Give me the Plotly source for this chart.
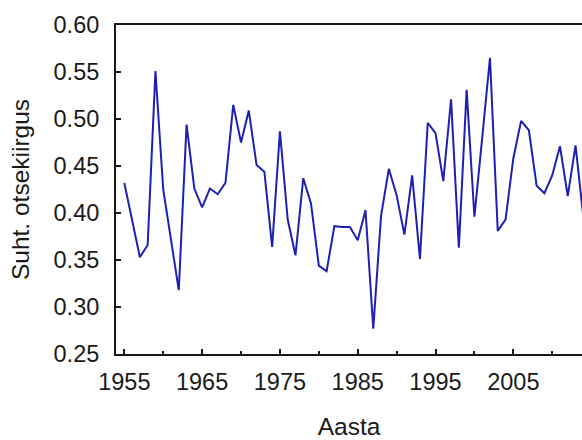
import plotly.graph_objects as go

years = list(range(1955, 2015))
values = [
    0.432, 0.392, 0.353, 0.366, 0.551, 0.425, 0.372, 0.318, 0.494, 0.426,
    0.406, 0.426, 0.420, 0.432, 0.515, 0.475, 0.509, 0.451, 0.444, 0.364,
    0.487, 0.393, 0.355, 0.437, 0.410, 0.344, 0.338, 0.386, 0.385, 0.385,
    0.371, 0.403, 0.277, 0.397, 0.447, 0.419, 0.377, 0.440, 0.351, 0.496,
    0.485, 0.434, 0.521, 0.363, 0.531, 0.396, 0.480, 0.565, 0.381, 0.393,
    0.458, 0.498, 0.488, 0.429, 0.421, 0.440, 0.471, 0.418, 0.472, 0.396,
]
major_ticks = [1955, 1965, 1975, 1985, 1995, 2005]
minor_ticks = [1960, 1970, 1980, 1990, 2000, 2010]
y_ticks = [0.25, 0.30, 0.35, 0.40, 0.45, 0.50, 0.55, 0.60]

fig = go.Figure(
    go.Scatter(
        x=years, y=values, mode="lines",
        line=dict(color="#1f1fb4", width=2),
        hoverinfo="skip",
    )
)

tick_font = dict(family="Liberation Sans, Arial, sans-serif", size=23.5, color="#1a1a1a")
title_font = dict(family="Liberation Sans, Arial, sans-serif", size=24.5, color="#1a1a1a")

fig.update_layout(
    width=582, height=440,
    margin=dict(l=116, r=0, t=25, b=86),
    paper_bgcolor="white", plot_bgcolor="white",
    font=tick_font,
    showlegend=False,
    xaxis=dict(
        range=[1953.93, 2013.83],
        tickvals=major_ticks,
        ticktext=[str(v) for v in major_ticks],
        tickfont=tick_font,
        ticks="inside", ticklen=5, tickwidth=1.5, tickcolor="#1a1a1a",
        minor=dict(tickvals=minor_ticks, ticks="inside", ticklen=3, tickwidth=1.5, tickcolor="#1a1a1a"),
        showline=True, linecolor="#1a1a1a", linewidth=2, mirror=True,
        showgrid=False, zeroline=False,
        ticklabelstandoff=6,
        title=dict(text="Aasta", standoff=26, font=title_font),
    ),
    yaxis=dict(
        range=[0.25, 0.60],
        tickvals=y_ticks,
        ticktext=[f"{v:.2f}" for v in y_ticks],
        tickfont=tick_font,
        ticks="inside", ticklen=5, tickwidth=1.5, tickcolor="#1a1a1a",
        showline=True, linecolor="#1a1a1a", linewidth=2, mirror=False,
        showgrid=False, zeroline=False,
        ticklabelstandoff=10,
        title=dict(text="Suht. otsekiirgus", standoff=17, font=title_font),
    ),
)

fig.write_html("out.html")
